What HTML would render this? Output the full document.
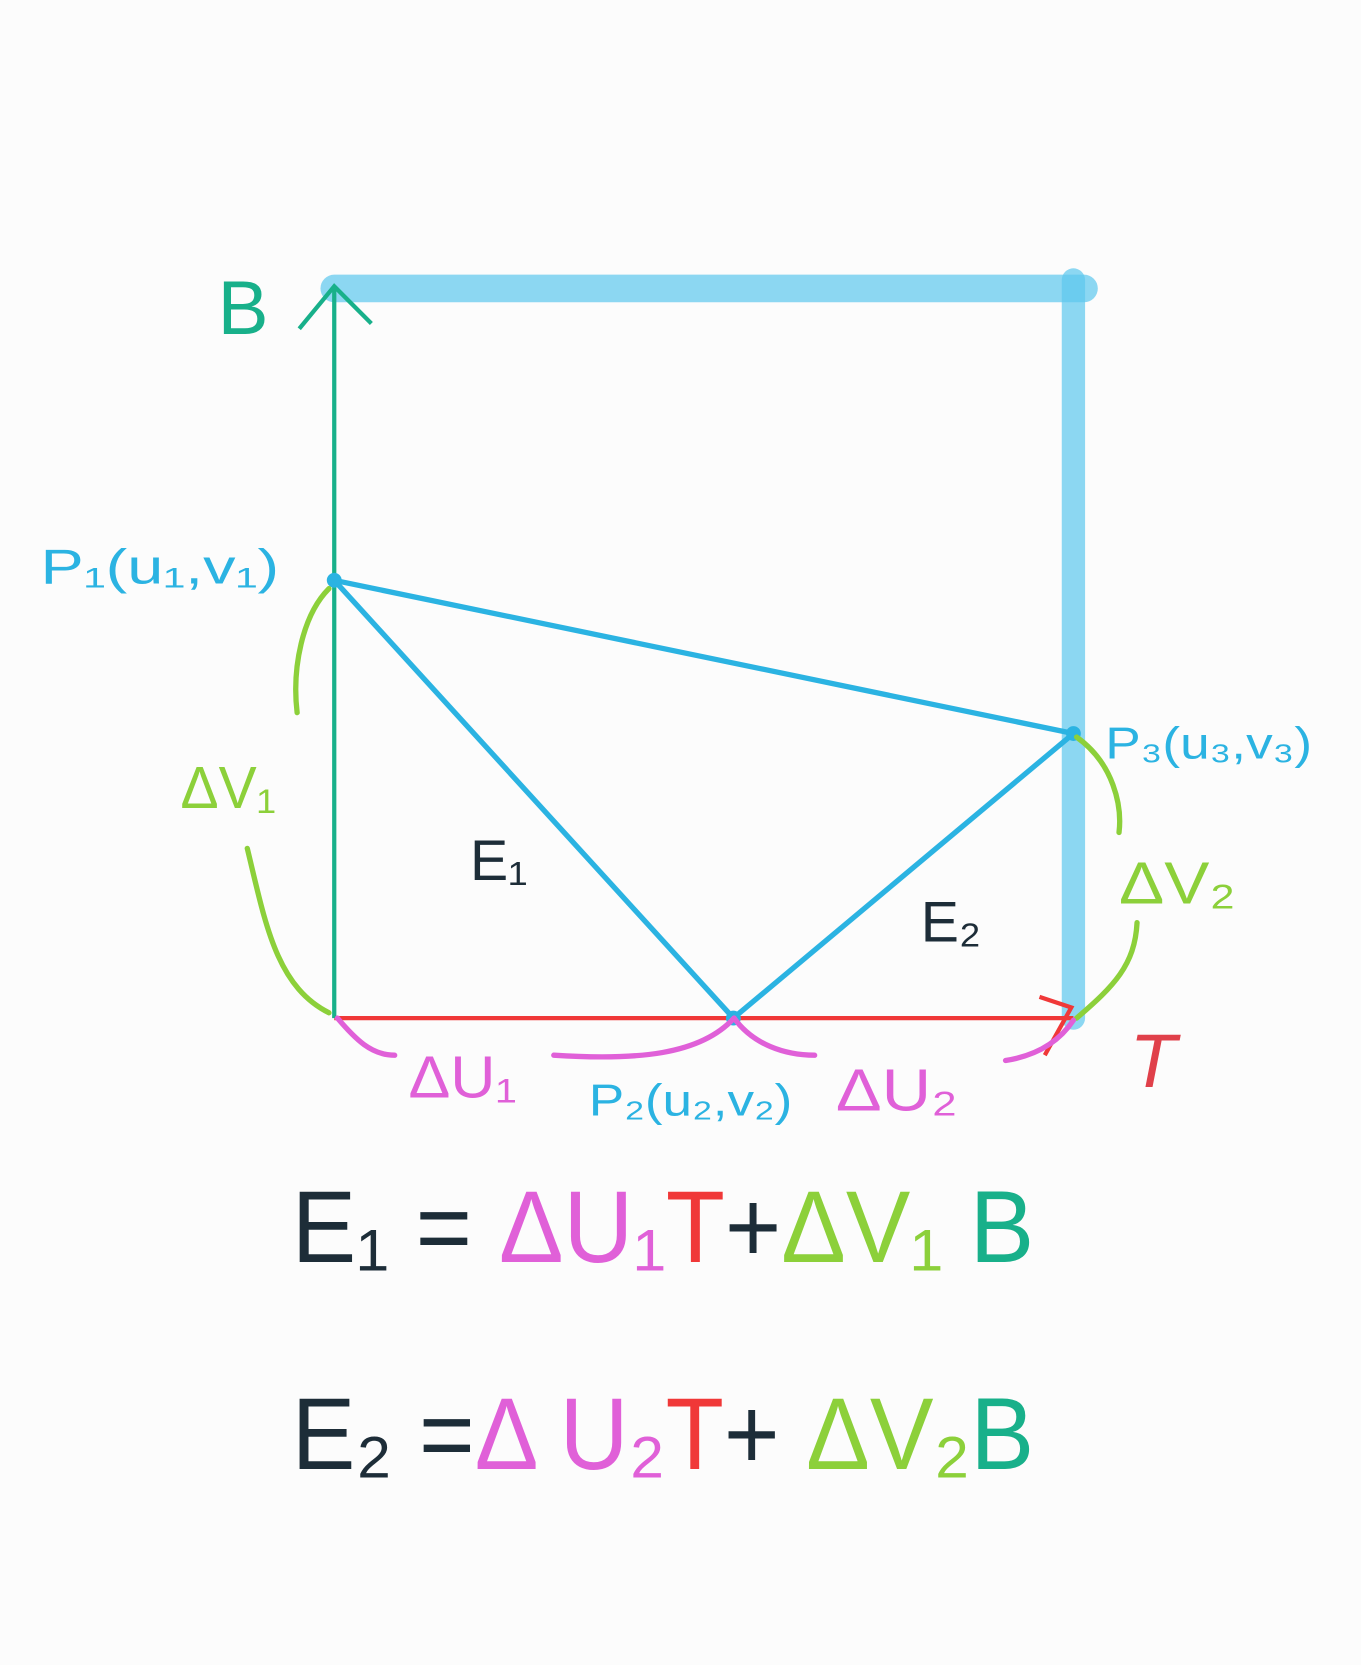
<!DOCTYPE html>
<html><head><meta charset="utf-8"><style>
html,body{margin:0;padding:0;background:#fcfcfc;}
svg{display:block;}
text{font-family:"Liberation Sans",sans-serif;}
</style></head><body>
<svg id="fig" width="1361" height="1665" viewBox="0 0 1283 1570">
<rect x="0" y="0" width="1283" height="1570" fill="#fcfcfc"/>
<g id="marks"></g>
<g>
<text x="205" y="315" font-size="72" fill="#18b08a">B</text>
<text x="1065" y="1025" font-size="72" fill="#e0404a" font-style="italic">T</text>
<text x="38" y="550" font-size="46" fill="#2bb3e2" textLength="225" lengthAdjust="spacingAndGlyphs">P₁(u₁,v₁)</text>
<text x="1042" y="715" font-size="42" fill="#2bb3e2" textLength="195" lengthAdjust="spacingAndGlyphs">P₃(u₃,v₃)</text>
<text x="555" y="1052" font-size="42" fill="#2bb3e2" textLength="192" lengthAdjust="spacingAndGlyphs">P₂(u₂,v₂)</text>
<text x="170" y="762" font-size="56" fill="#8cd03a" textLength="90" lengthAdjust="spacingAndGlyphs">ΔV₁</text>
<text x="1055" y="852" font-size="56" fill="#8cd03a" textLength="110" lengthAdjust="spacingAndGlyphs">ΔV₂</text>
<text x="385" y="1035" font-size="56" fill="#e060d8" textLength="102" lengthAdjust="spacingAndGlyphs">ΔU₁</text>
<text x="788" y="1047" font-size="56" fill="#e060d8" textLength="115" lengthAdjust="spacingAndGlyphs">ΔU₂</text>
<text x="443" y="830" font-size="54" fill="#1d2d38">E₁</text>
<text x="868" y="888" font-size="54" fill="#1d2d38">E₂</text>
<text x="275" y="1190" font-size="96" textLength="700" lengthAdjust="spacingAndGlyphs"><tspan fill="#1d2d38">E₁ = </tspan><tspan fill="#e060d8">ΔU₁</tspan><tspan fill="#f03838">T</tspan><tspan fill="#1d2d38">+</tspan><tspan fill="#8cd03a">ΔV₁</tspan><tspan fill="#18b08a"> B</tspan></text>
<text x="275" y="1385" font-size="96" textLength="700" lengthAdjust="spacingAndGlyphs"><tspan fill="#1d2d38">E₂ =</tspan><tspan fill="#e060d8">Δ U₂</tspan><tspan fill="#f03838">T</tspan><tspan fill="#1d2d38">+</tspan><tspan fill="#8cd03a"> ΔV₂</tspan><tspan fill="#18b08a">B</tspan></text>
</g>
</svg>
<script>
// points in diagram coordinates (u along T, v along B), 0..1
const pointNames = ['P1','P2','P3'];
const pointU = [0, 0.54, 1];
const pointV = [0.6, 0, 0.39];
const edges = [[0,1],[1,2],[0,2]];
const x0=315, x1=1012, y0=960, y1=272;
function xs(u){return x0+u*(x1-x0);}
function ys(v){return y0-v*(y0-y1);}
const NS='http://www.w3.org/2000/svg';
const g=document.getElementById('marks');
function mk(tag,attrs){const e=document.createElementNS(NS,tag);for(const k in attrs)e.setAttribute(k,attrs[k]);g.appendChild(e);return e;}
let e;
e=mk('line',{x1:xs(0),y1:ys(1),x2:xs(1)+10,y2:ys(1),stroke:'#5cc8ee','stroke-opacity':0.7,'stroke-width':26,'stroke-linecap':'round'});


e=mk('line',{x1:xs(1),y1:ys(1)-8,x2:xs(1),y2:ys(0),stroke:'#5cc8ee','stroke-opacity':0.7,'stroke-width':22,'stroke-linecap':'round'});


e=mk('line',{x1:xs(0),y1:ys(0),x2:xs(1),y2:ys(0),stroke:'#f03838','stroke-width':4});


e=mk('path',{d:'M980 940 L1010 950 L985 995',stroke:'#f03838','stroke-width':4,fill:'none'});


e=mk('line',{x1:xs(0),y1:ys(0),x2:xs(0),y2:ys(1),stroke:'#18b08a','stroke-width':4});


e=mk('path',{d:'M282 310 L315 270 L350 305',stroke:'#18b08a','stroke-width':4,fill:'none'});


edges.forEach(function(ed){
  e=mk('line',{x1:xs(pointU[ed[0]]),y1:ys(pointV[ed[0]]),x2:xs(pointU[ed[1]]),y2:ys(pointV[ed[1]]),stroke:'#2bb3e2','stroke-width':5});
  
  
});
pointNames.forEach(function(n,i){
  e=mk('circle',{cx:xs(pointU[i]),cy:ys(pointV[i]),r:7,fill:'#2bb3e2'});
  
  
});
const braces=[
 ['M310 555 C285 580 275 630 280 672','#8cd03a','brace-v1-top'],
 ['M233 800 C250 870 260 930 310 955','#8cd03a','brace-v1-bottom'],
 ['M1015 695 C1050 720 1058 760 1055 785','#8cd03a','brace-v2-top'],
 ['M1072 870 C1070 910 1050 930 1015 960','#8cd03a','brace-v2-bottom'],
 ['M318 960 C335 980 350 995 372 995','#e060d8','brace-u1-left'],
 ['M522 995 C600 1000 660 995 692 960','#e060d8','brace-u1-right'],
 ['M692 960 C710 985 740 995 768 995','#e060d8','brace-u2-left'],
 ['M948 1000 C980 995 1000 980 1012 962','#e060d8','brace-u2-right']
];
braces.forEach(function(b){
  e=mk('path',{d:b[0],stroke:b[1],'stroke-width':5,fill:'none','stroke-linecap':'round'});
  
  
});
</script>
</body></html>
